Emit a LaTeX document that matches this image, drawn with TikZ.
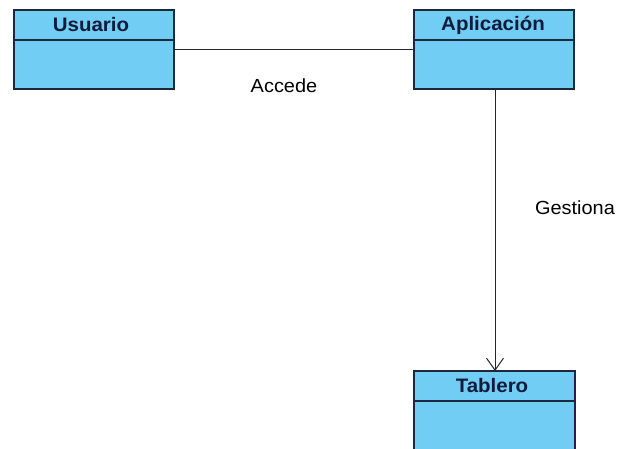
\documentclass[tikz,border=0pt]{standalone}
\usepackage{fontspec}
\setmainfont{Liberation Sans}
\usetikzlibrary{arrows.meta}
\definecolor{classfill}{RGB}{114,205,244}
\definecolor{classline}{RGB}{30,40,60}
\definecolor{classtext}{RGB}{15,28,60}
\tikzset{
  classbox/.style={draw=classline, fill=classfill, line width=1.3pt},
  divider/.style={draw=classline, line width=1.3pt},
  classname/.style={text=classtext, font=\fontsize{19.5}{19.5}\selectfont\bfseries, xscale=1.05, inner sep=0pt},
  assoc/.style={draw=black!85, line width=1pt},
  rolelabel/.style={font=\fontsize{19}{19}\selectfont, inner sep=0pt, xscale=1.05}
}
\begin{document}
\begin{tikzpicture}[x=1pt,y=-1pt]
  \useasboundingbox (0,0) rectangle (623,449);
  % Usuario
  \draw[classbox] (14,10) rectangle (174,89);
  \draw[divider] (14,40) -- (174,40);
  \node[classname] (usuario) at (91,25) {Usuario};
  \coordinate (usuarioR) at (174,50);
  % Aplicacion
  \draw[classbox] (414,10) rectangle (574,89);
  \draw[divider] (414,40) -- (574,40);
  \node[classname] (aplicacion) at (493,25) {Aplicación};
  \coordinate (aplicacionL) at (414,50);
  \coordinate (aplicacionB) at (495,89);
  % Tablero
  \draw[classbox] (414,371) rectangle (575,460);
  \draw[divider] (414,401) -- (575,401);
  \node[classname] (tablero) at (492,386) {Tablero};
  \coordinate (tableroT) at (495,371);
  % Associations
  \draw[assoc] (usuarioR) -- (aplicacionL);
  \draw[assoc, -{Straight Barb[length=12pt,width=17pt,line width=1pt]}] (aplicacionB) -- (tableroT);
  \node[rolelabel] (accede) at (284,86) {Accede};
  \node[rolelabel] (gestiona) at (575,208) {Gestiona};
\end{tikzpicture}
\end{document}
